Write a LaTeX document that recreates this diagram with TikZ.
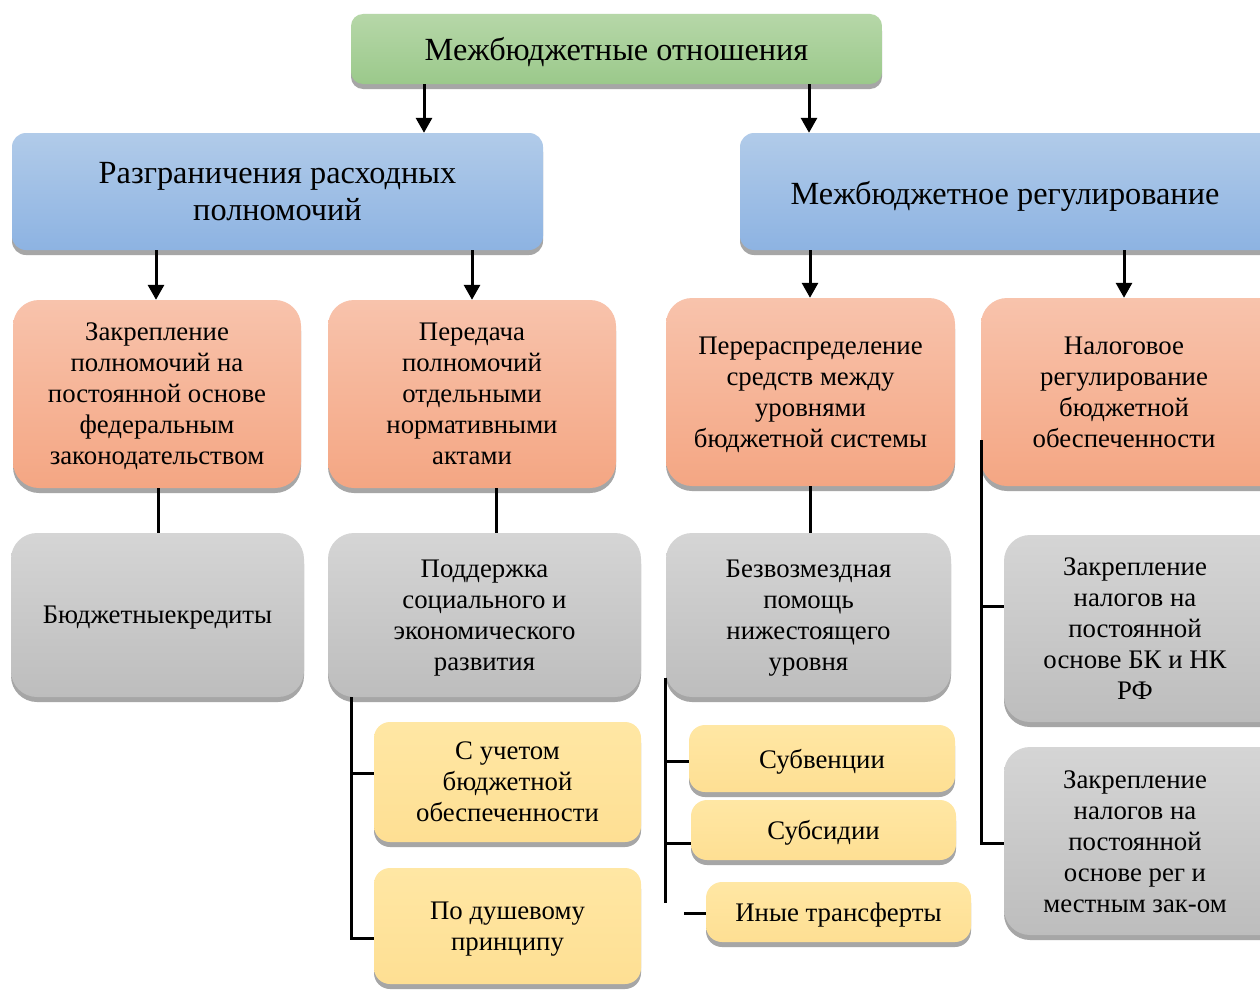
\documentclass[tikz,border=0pt]{standalone}
\usepackage{fontspec}
\setmainfont{Liberation Serif}
\usetikzlibrary{arrows.meta,shadows}
\definecolor{gT}{HTML}{B6D7A8}\definecolor{gB}{HTML}{9BC98B}
\definecolor{bT}{HTML}{B1CBE9}\definecolor{bB}{HTML}{8DB3E2}
\definecolor{oT}{HTML}{F8C3AC}\definecolor{oB}{HTML}{F4A683}
\definecolor{sT}{HTML}{D5D5D5}\definecolor{sB}{HTML}{BDBDBD}
\definecolor{yT}{HTML}{FFE7A4}\definecolor{yB}{HTML}{FEDF93}
\definecolor{shd}{HTML}{A6A6A6}
\begin{document}
\begin{tikzpicture}[x=1pt,y=-1pt,
  box/.style={draw=none, inner sep=0pt, align=center, text depth=0pt,
    drop shadow={shadow xshift=0pt,shadow yshift=-5pt,fill=shd,opacity=1}},
  greenbox/.style={box, rounded corners=12pt, top color=gT, bottom color=gB,
    font=\fontsize{32.3}{38}\selectfont},
  bluebox/.style={box, rounded corners=14pt, top color=bT, bottom color=bB,
    font=\fontsize{32.3}{37}\selectfont},
  orbox/.style={box, rounded corners=26pt, top color=oT, bottom color=oB,
    font=\fontsize{26.8}{31}\selectfont},
  graybox/.style={box, rounded corners=26pt, top color=sT, bottom color=sB,
    font=\fontsize{26.8}{31}\selectfont},
  yelbox/.style={box, rounded corners=16pt, top color=yT, bottom color=yB,
    font=\fontsize{26.8}{31}\selectfont},
  txt/.style={inner sep=0pt, align=center, font=\fontsize{26.8}{31}\selectfont},
  arr/.style={line width=3pt, -{Triangle[length=15pt,width=16pt]}},
  ln/.style={line width=3pt}
]
\useasboundingbox (0,0) rectangle (1260,990);
\fill[white] (0,0) rectangle (1260,990);
\clip (0,0) rectangle (1260,990);

% top
\node[greenbox, minimum width=531pt, minimum height=70pt] (top) at (616.5,49) {Межбюджетные отношения};

% level 1
\node[bluebox, minimum width=531pt, minimum height=117pt] (bl) at (277.5,191.5) {Разграничения расходных\\полномочий};
\node[bluebox, minimum width=560pt, minimum height=117pt] (br) at (1020,191.5) {};
\node[txt, font=\fontsize{32.3}{37}\selectfont] (brt) at (1005,196) {Межбюджетное регулирование};

% level 2
\node[orbox, minimum width=288pt, minimum height=188pt] (oa) at (157,394) {Закрепление\\полномочий на\\постоянной основе\\федеральным\\законодательством};
\node[orbox, minimum width=288pt, minimum height=188pt] (ob) at (472,394) {Передача\\полномочий\\отдельными\\нормативными\\актами};
\node[orbox, minimum width=289pt, minimum height=188pt] (oc) at (810.5,392) {Перераспределение\\средств между\\уровнями\\бюджетной системы};
\node[orbox, minimum width=330pt, minimum height=188pt] (od) at (1146,392) {};
\node[txt] (odt) at (1124,392) {Налоговое\\регулирование\\бюджетной\\обеспеченности};

% level 3
\node[graybox, minimum width=293pt, minimum height=164pt] (ga) at (157.5,615) {Бюджетныекредиты};
\node[graybox, minimum width=313pt, minimum height=164pt] (gb) at (484.5,615) {Поддержка\\социального и\\экономического\\развития};
\node[graybox, minimum width=285pt, minimum height=164pt] (gc) at (808.5,615) {Безвозмездная\\помощь\\нижестоящего\\уровня};
\node[graybox, minimum width=290pt, minimum height=187pt] (gd) at (1149,628.5) {};
\node[txt] (gdt) at (1135,629) {Закрепление\\налогов на\\постоянной\\основе БК и НК\\РФ};
\node[graybox, minimum width=290pt, minimum height=188pt] (ge) at (1149,841) {};
\node[txt] (get) at (1135,842) {Закрепление\\налогов на\\постоянной\\основе рег и\\местным зак-ом};

% yellow
\node[yelbox, minimum width=267pt, minimum height=120pt] (ya) at (507.5,782) {С учетом\\бюджетной\\обеспеченности};
\node[yelbox, minimum width=267pt, minimum height=116pt] (yb) at (507.5,926) {По душевому\\принципу};
\node[yelbox, minimum width=266pt, minimum height=67pt] (yc) at (822,758.5) {Субвенции};
\node[yelbox, minimum width=265pt, minimum height=60pt] (yd) at (823.5,830) {Субсидии};
\node[yelbox, minimum width=265pt, minimum height=60pt] (ye) at (838.5,912) {Иные трансферты};

% arrows
\draw[arr] (top.south -| 424,0) -- (bl.north -| 424,0);
\draw[arr] (top.south -| 809,0) -- (br.north -| 809,0);
\draw[arr] (bl.south -| 156,0) -- (oa.north -| 156,0);
\draw[arr] (bl.south -| 472,0) -- (ob.north -| 472,0);
\draw[arr] (br.south -| 810,0) -- (oc.north -| 810,0);
\draw[arr] (br.south -| 1124,0) -- (od.north -| 1124,0);

% plain connectors
\draw[ln] (oa.south -| 158,0) -- (ga.north -| 158,0);
\draw[ln] (ob.south -| 496,0) -- (gb.north -| 496,0);
\draw[ln] (oc.south -| 810,0) -- (gc.north -| 810,0);

\coordinate (b1) at (351,697);
\draw[ln] (b1) |- (yb.west |- 0,938);
\draw[ln] (b1 |- 0,773) -- (ya.west |- 0,773);

\coordinate (c1) at (665,678);
\coordinate (c2) at (665,903);
\draw[ln] (c1) -- (c2);
\draw[ln] (c1 |- 0,761) -- (yc.west |- 0,761);
\draw[ln] (c1 |- 0,843) -- (yd.west |- 0,843);
\coordinate (e1) at (684,913);
\draw[ln] (e1) -- (ye.west |- e1);

\coordinate (d1) at (981,440);
\draw[ln] (d1) |- (ge.west |- 0,843);
\draw[ln] (d1 |- 0,606) -- (gd.west |- 0,606);
\end{tikzpicture}
\end{document}
